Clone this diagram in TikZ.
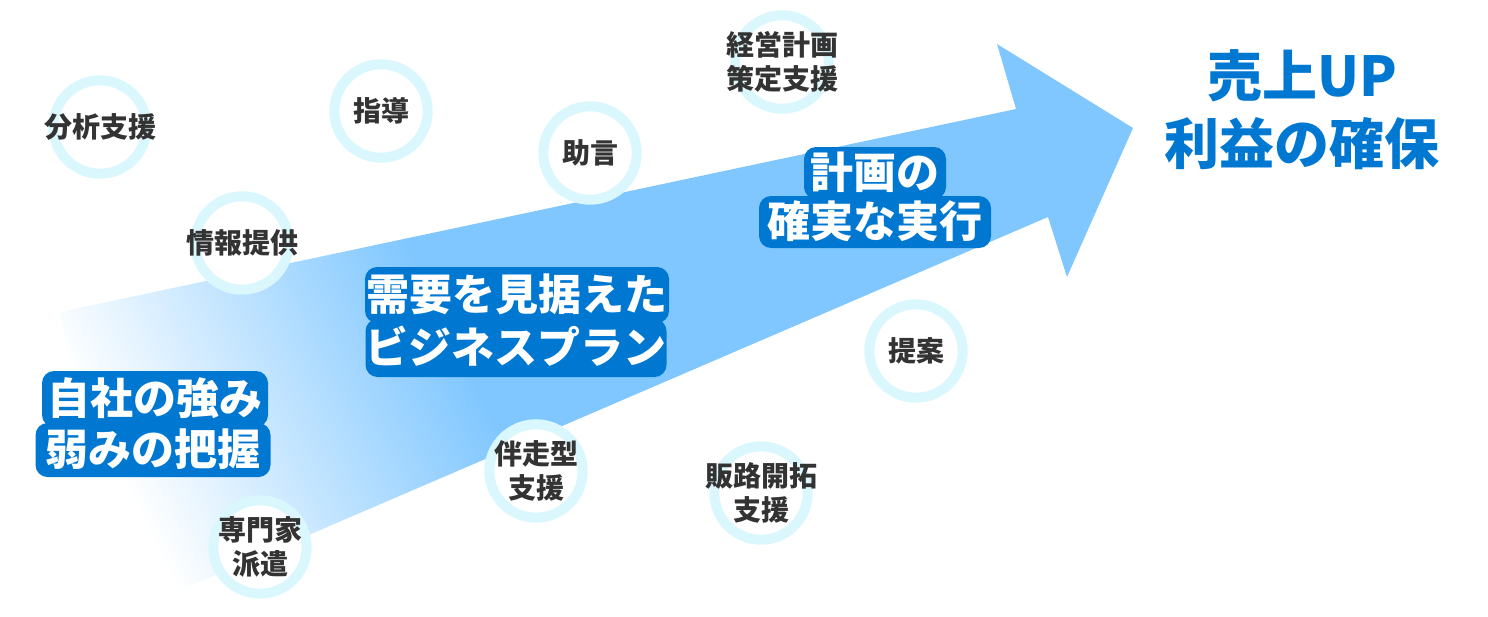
\documentclass[tikz,border=0pt]{standalone}
\usepackage{fontspec}
\newfontfamily\jp{Noto Sans CJK JP}
\definecolor{abl}{RGB}{128,199,255}
\definecolor{lbl}{RGB}{0,120,210}
\definecolor{ringc}{RGB}{218,247,253}
\definecolor{txt}{RGB}{51,51,51}
\begin{document}
\begin{tikzpicture}[x=1pt,y=-1pt,
  svc/.style={circle, draw=ringc, line width=10pt, fill=white, minimum size=93.4pt, inner sep=0pt},
  svctext/.style={inner sep=0pt, align=center, text=txt, font=\jp\bfseries\fontsize{28}{34}\selectfont},
  big/.style={fill=lbl, rounded corners=12pt, text=white, inner sep=0pt,
    font=\jp\bfseries\fontsize{43}{49}\selectfont, text height=34pt, text depth=3pt},
  goal/.style={text=lbl, inner sep=0pt, align=center, font=\jp\bfseries\fontsize{55}{68}\selectfont}]
\useasboundingbox (0,0) rectangle (1488,616);
% arrow
\begin{scope}
  \clip (60,312) -- (1016,109) -- (997,44) -- (1133,128) -- (1067,277) -- (1048,217) -- (125,614) -- cycle;
  \begin{scope}[transform canvas={rotate around={26:(60,420)}}]
    \fill[white] (-600,-500) rectangle (91,1300);
    \shade[left color=white, right color=abl] (90,-500) rectangle (450,1300);
    \fill[abl] (449,-500) rectangle (2000,1300);
  \end{scope}
\end{scope}
% service circles
\node[svc] (c1) at (100,127) {};
\node[svctext] (t1) at (c1) {分析支援};
\node[svc] (c2) at (381,111) {};
\node[svctext] (t2) at (c2) {指導};
\node[svc] (c3) at (242,243) {};
\node[svctext] (t3) at (c3) {情報提供};
\node[svc] (c4) at (782,62) {};
\node[svctext] (t4) at (c4) {経営計画\\策定支援};
\node[svc] (c5) at (590,153) {};
\node[svctext] (t5) at (c5) {助言};
\node[svc] (c6) at (916,351) {};
\node[svctext] (t6) at (c6) {提案};
\node[svc] (c7) at (536,471) {};
\node[svctext] (t7) at (c7) {伴走型\\支援};
\node[svc] (c8) at (761,493) {};
\node[svctext] (t8) at (c8) {販路開拓\\支援};
\node[svc] (c9) at (260,547) {};
\node[svctext] (t9) at (c9) {専門家\\派遣};
% stage labels
\node[big, minimum width=226pt, minimum height=56pt] (s1a) at (155,399) {自社の強み};
\node[big, minimum width=235pt, minimum height=54pt] (s1b) at (153,450) {弱みの把握};
\node[big, minimum width=304pt, minimum height=56pt] (s2a) at (517,295) {需要を見据えた};
\node[big, minimum width=300pt, minimum height=58pt] (s2b) at (516,348) {ビジネスプラン};
\node[big, minimum width=142pt, minimum height=52pt] (s3a) at (875,173) {計画の};
\node[big, minimum width=232pt, minimum height=52pt] (s3b) at (875,222) {確実な実行};
% goal
\node[goal] (g) at (1302,110) {売上UP\\利益の確保};
\end{tikzpicture}
\end{document}
